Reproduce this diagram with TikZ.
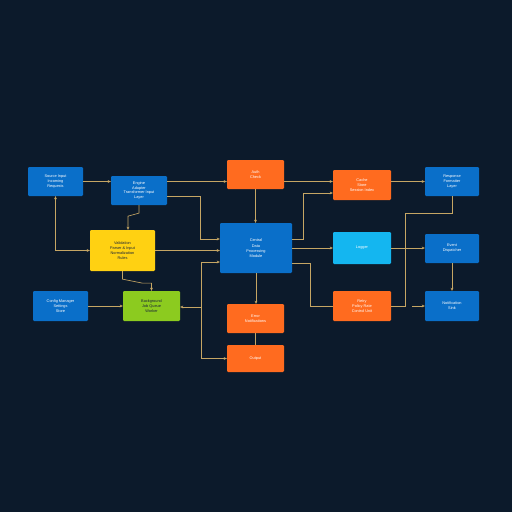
\documentclass[tikz,border=0pt]{standalone}
\usepackage{fontspec}
\setmainfont{Liberation Sans}
\usetikzlibrary{arrows.meta,calc}

\definecolor{bgnavy}{HTML}{0C1A2B}
\definecolor{boxblue}{HTML}{0A6FC9}
\definecolor{boxorange}{HTML}{FF6B1F}
\definecolor{boxyellow}{HTML}{FFD112}
\definecolor{boxgreen}{HTML}{8CCB1F}
\definecolor{boxcyan}{HTML}{14B6F0}
\definecolor{wirecol}{HTML}{C6A664}
\definecolor{darktext}{HTML}{1A2438}

\tikzset{
  blk/.style 2 args={rounded corners=1.5pt, text=white, align=center, inner sep=1pt,
    minimum width=#1*0.5mm, minimum height=#2*0.5mm, font=\fontsize{5.5}{7}\selectfont},
  wire/.style={draw=wirecol, line width=0.9pt},
  arr/.style={wire, -{Stealth[length=4.5pt,width=4pt]}},
}

\begin{document}
\begin{tikzpicture}[x=0.5mm, y=-0.5mm]
    \fill[bgnavy] (0,0) rectangle (512,512);

    % left column
    \node[blk={55}{29}, fill=boxblue] (src) at (55.5,181.5) {Source Input\\Incoming\\Requests};
    \node[blk={56}{29}, fill=boxblue] (eng) at (139,190.5) {Engine\\Adapter\\Transformer Input\\Layer};
    \node[blk={65}{41}, fill=boxyellow, text=darktext] (val) at (122.5,250.5) {Validation\\Parser \& Input\\Normalization\\Rules};
    \node[blk={55}{30}, fill=boxblue] (cfg) at (60.5,306) {Config Manager\\Settings\\Store};
    \node[blk={57}{30}, fill=boxgreen, text=darktext] (job) at (151.5,306) {Background\\Job Queue\\Worker};

    % middle column
    \node[blk={57}{29}, fill=boxorange] (auth) at (255.5,174.5) {Auth\\Check};
    \node[blk={72}{50}, fill=boxblue] (core) at (256,248) {Central\\[2pt]Data\\Processing\\Module};
    \node[blk={57}{29}, fill=boxorange] (err) at (255.5,318.5) {Error\\Notifications};
    \node[blk={57}{27}, fill=boxorange] (out) at (255.5,358.5) {Output};

    % right columns
    \node[blk={58}{30}, fill=boxorange] (cache) at (362,185) {Cache\\Store\\Session Index};
    \node[blk={58}{32}, fill=boxcyan] (log) at (362,248) {Logger};
    \node[blk={58}{30}, fill=boxorange] (retry) at (362,306) {Retry\\Policy Rate\\Control Unit};
    \node[blk={54}{29}, fill=boxblue] (resp) at (452,181.5) {Response\\Formatter\\Layer};
    \node[blk={54}{29}, fill=boxblue] (disp) at (452,248.5) {Event\\Dispatcher};
    \node[blk={54}{30}, fill=boxblue] (sink) at (452,306) {Notification\\Sink};

    \coordinate (trunk) at (201,307);
    \coordinate (stub) at (412,306);

    % connectors
    \draw[arr] (src.east) -- (src.east -| eng.west);
    \draw[arr] (eng.east |- src.east) -- (auth.west |- src.east);
    \draw[arr] ($(eng.east)+(0,5.5)$) -- ++(33,0) |- ($(core.west)+(0,-9)$);
    \draw[arr] (eng.south) -- ++(0,8) -- ++(-11,3) -- ($(val.north)+(5.5,0)$);
    \draw[wire, {Stealth[length=4.5pt,width=4pt]}-{Stealth[length=4.5pt,width=4pt]}] (src.south) |- (val.west);
    \draw[arr] (val.east) -- (val.east -| core.west);
    \draw[arr] (val.south) -- ++(0,8) -- ++(20,4) -| (job.north);
    \draw[arr] (cfg.east) -- (job.west);

    \draw[arr] (trunk) |- ($(core.west)+(0,14)$);
    \draw[arr] (trunk) -- (trunk -| job.east);
    \draw[arr] (trunk) |- (out.west);

    \draw[arr] (auth.south) -- (auth.south |- core.north);
    \draw[arr] (core.south) -- (core.south |- err.north);
    \draw[wire] (err.south) -- (err.south |- out.north);

    \draw[arr] ($(auth.east)+(0,7)$) -- ($(cache.west)+(0,-3.5)$);
    \draw[arr] ($(core.east)+(0,-9)$) -- ++(11,0) |- ($(cache.west)+(0,8)$);
    \draw[arr] (core.east) -- (log.west);
    \draw[wire] ($(core.east)+(0,15)$) -- ++(18,0) |- (retry.west);

    \draw[arr] (cache.east |- resp.west) -- (resp.west);
    \draw[wire] (retry.east) -- ++(14,0) |- ($(resp.south)+(0,17)$) -- (resp.south);
    \draw[arr] (log.east) -- (log.east -| disp.west);
    \draw[arr] (disp.south) -- (sink.north);
    \draw[arr] (stub) -- (sink.west);
\end{tikzpicture}
\end{document}
